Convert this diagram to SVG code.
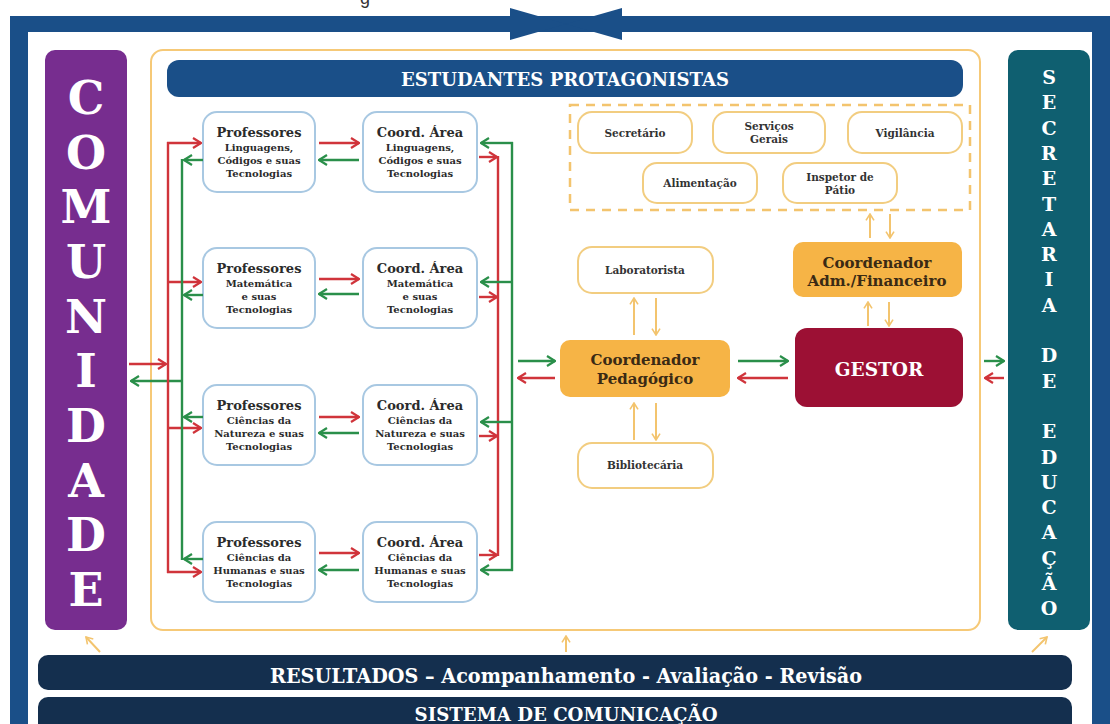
<svg xmlns="http://www.w3.org/2000/svg" width="1110" height="724" viewBox="0 0 1110 724">
  <style>
    .frame { fill: #1a4f88; }
    .col-text { font-family: "DejaVu Serif", "Liberation Serif", serif; font-weight: bold; fill: #ffffff; text-anchor: middle; }
    .bar { fill: #142f4e; }
    .bar-text { font-family: "DejaVu Serif", "Liberation Serif", serif; font-weight: bold; fill: #ffffff; text-anchor: middle; }
    .area { fill: #ffffff; stroke: #a8c8e2; stroke-width: 2; }
    .staff { fill: #ffffff; stroke: #f2cd80; stroke-width: 2; }
    .lead { fill: #f6b446; }
    .t-title { font-family: "DejaVu Serif", "Liberation Serif", serif; font-weight: bold; font-size: 13px; fill: #2b2b2b; text-anchor: middle; }
    .t-sub { font-family: "DejaVu Serif", "Liberation Serif", serif; font-weight: bold; font-size: 10px; fill: #2b2b2b; text-anchor: middle; }
    .t-staff { font-family: "DejaVu Serif", "Liberation Serif", serif; font-weight: bold; font-size: 10.5px; fill: #333333; text-anchor: middle; }
    .t-lead { font-family: "DejaVu Serif", "Liberation Serif", serif; font-weight: bold; font-size: 15px; fill: #3a2a14; text-anchor: middle; }
    .red { stroke: #d0343b; stroke-width: 2.4; fill: none; }
    .green { stroke: #2a8f4a; stroke-width: 2.4; fill: none; }
    .red-a { stroke: #d0343b; stroke-width: 2.4; fill: none; marker-end: url(#head-red); }
    .green-a { stroke: #2a8f4a; stroke-width: 2.4; fill: none; marker-end: url(#head-green); }
    .ora-a { stroke: #f3c46e; stroke-width: 2; fill: none; marker-end: url(#head-orange); }
  </style>
  <defs>
    <marker id="head-red" viewBox="0 0 10 12" refX="9" refY="6" markerWidth="10" markerHeight="12" markerUnits="userSpaceOnUse" orient="auto">
      <path d="M1,1 L9,6 L1,11" fill="none" stroke="#d0343b" stroke-width="2.2"/>
    </marker>
    <marker id="head-green" viewBox="0 0 10 12" refX="9" refY="6" markerWidth="10" markerHeight="12" markerUnits="userSpaceOnUse" orient="auto">
      <path d="M1,1 L9,6 L1,11" fill="none" stroke="#2a8f4a" stroke-width="2.2"/>
    </marker>
    <marker id="head-orange" viewBox="0 0 10 12" refX="9" refY="6" markerWidth="8" markerHeight="10" markerUnits="userSpaceOnUse" orient="auto">
      <path d="M1,1 L9,6 L1,11" fill="none" stroke="#f3c46e" stroke-width="2"/>
    </marker>
  </defs>

  <rect x="0" y="0" width="1110" height="724" fill="#ffffff"/>

  <!-- clipped heading fragment along the top edge -->
  <text x="360" y="4" font-family="Liberation Sans, sans-serif" font-size="18" fill="#333333">g</text>

  <!-- outer frame with the meeting arrows -->
  <g id="frame">
    <rect class="frame" x="10" y="16" width="1100" height="16"/>
    <rect class="frame" x="10" y="16" width="18" height="708"/>
    <rect class="frame" x="1092" y="16" width="18" height="708"/>
    <polygon class="frame" points="510,8 510,40 566,24"/>
    <polygon class="frame" points="622,8 622,40 566,24"/>
  </g>

  <!-- school boundary -->
  <rect id="escola" x="151" y="50" width="829" height="580" rx="12" fill="#ffffff" stroke="#f6c977" stroke-width="2"/>

  <g id="comunidade">
    <rect x="45" y="50" width="82" height="580" rx="10" fill="#772d8f"/>
    <g class="col-text" font-size="46">
      <text x="86" y="114">C</text>
      <text x="86" y="169">O</text>
      <text x="86" y="223">M</text>
      <text x="86" y="278">U</text>
      <text x="86" y="333">N</text>
      <text x="86" y="387">I</text>
      <text x="86" y="442">D</text>
      <text x="86" y="497">A</text>
      <text x="86" y="551">D</text>
      <text x="86" y="606">E</text>
    </g>
  </g>

  <g id="secretaria">
    <rect x="1008" y="50" width="82" height="580" rx="10" fill="#0f5f70"/>
    <g class="col-text" font-size="19">
      <text x="1049" y="84">S</text>
      <text x="1049" y="109">E</text>
      <text x="1049" y="135">C</text>
      <text x="1049" y="160">R</text>
      <text x="1049" y="185">E</text>
      <text x="1049" y="211">T</text>
      <text x="1049" y="236">A</text>
      <text x="1049" y="261">R</text>
      <text x="1049" y="286">I</text>
      <text x="1049" y="312">A</text>
      <text x="1049" y="362">D</text>
      <text x="1049" y="388">E</text>
      <text x="1049" y="438">E</text>
      <text x="1049" y="464">D</text>
      <text x="1049" y="489">U</text>
      <text x="1049" y="514">C</text>
      <text x="1049" y="539">A</text>
      <text x="1049" y="565">Ç</text>
      <text x="1049" y="590">Ã</text>
      <text x="1049" y="615">O</text>
    </g>
  </g>

  <g id="estudantes">
    <rect x="167" y="60" width="796" height="37" rx="12" fill="#1a4f88"/>
    <text class="bar-text" x="565" y="86" font-size="19" textLength="328" lengthAdjust="spacingAndGlyphs">ESTUDANTES PROTAGONISTAS</text>
  </g>

  <!-- teachers and area coordinators -->
  <g id="prof-linguagens">
    <rect class="area" x="203" y="112" width="112" height="80" rx="14"/>
    <text class="t-title" x="259" y="137">Professores</text>
    <text class="t-sub" x="259" y="150.5">Linguagens,</text>
    <text class="t-sub" x="259" y="163.5">Códigos e suas</text>
    <text class="t-sub" x="259" y="176.5">Tecnologias</text>
  </g>
  <g id="coord-linguagens">
    <rect class="area" x="363" y="112" width="114" height="80" rx="14"/>
    <text class="t-title" x="420" y="137">Coord. Área</text>
    <text class="t-sub" x="420" y="150.5">Linguagens,</text>
    <text class="t-sub" x="420" y="163.5">Códigos e suas</text>
    <text class="t-sub" x="420" y="176.5">Tecnologias</text>
  </g>
  <g id="prof-matematica">
    <rect class="area" x="203" y="248" width="112" height="80" rx="14"/>
    <text class="t-title" x="259" y="273">Professores</text>
    <text class="t-sub" x="259" y="286.5">Matemática</text>
    <text class="t-sub" x="259" y="299.5">e suas</text>
    <text class="t-sub" x="259" y="312.5">Tecnologias</text>
  </g>
  <g id="coord-matematica">
    <rect class="area" x="363" y="248" width="114" height="80" rx="14"/>
    <text class="t-title" x="420" y="273">Coord. Área</text>
    <text class="t-sub" x="420" y="286.5">Matemática</text>
    <text class="t-sub" x="420" y="299.5">e suas</text>
    <text class="t-sub" x="420" y="312.5">Tecnologias</text>
  </g>
  <g id="prof-natureza">
    <rect class="area" x="203" y="385" width="112" height="80" rx="14"/>
    <text class="t-title" x="259" y="410">Professores</text>
    <text class="t-sub" x="259" y="423.5">Ciências da</text>
    <text class="t-sub" x="259" y="436.5">Natureza e suas</text>
    <text class="t-sub" x="259" y="449.5">Tecnologias</text>
  </g>
  <g id="coord-natureza">
    <rect class="area" x="363" y="385" width="114" height="80" rx="14"/>
    <text class="t-title" x="420" y="410">Coord. Área</text>
    <text class="t-sub" x="420" y="423.5">Ciências da</text>
    <text class="t-sub" x="420" y="436.5">Natureza e suas</text>
    <text class="t-sub" x="420" y="449.5">Tecnologias</text>
  </g>
  <g id="prof-humanas">
    <rect class="area" x="203" y="522" width="112" height="80" rx="14"/>
    <text class="t-title" x="259" y="547">Professores</text>
    <text class="t-sub" x="259" y="560.5">Ciências da</text>
    <text class="t-sub" x="259" y="573.5">Humanas e suas</text>
    <text class="t-sub" x="259" y="586.5">Tecnologias</text>
  </g>
  <g id="coord-humanas">
    <rect class="area" x="363" y="522" width="114" height="80" rx="14"/>
    <text class="t-title" x="420" y="547">Coord. Área</text>
    <text class="t-sub" x="420" y="560.5">Ciências da</text>
    <text class="t-sub" x="420" y="573.5">Humanas e suas</text>
    <text class="t-sub" x="420" y="586.5">Tecnologias</text>
  </g>

  <!-- support staff -->
  <rect id="apoio" x="570" y="105" width="400" height="105" fill="none" stroke="#f3c46e" stroke-width="2.5" stroke-dasharray="9 7"/>
  <g id="secretario">
    <rect class="staff" x="578" y="112" width="114" height="41" rx="14"/>
    <text class="t-staff" x="635" y="137">Secretário</text>
  </g>
  <g id="servicos-gerais">
    <rect class="staff" x="713" y="112" width="112" height="41" rx="14"/>
    <text class="t-staff" x="769" y="130">Serviços</text>
    <text class="t-staff" x="769" y="143">Gerais</text>
  </g>
  <g id="vigilancia">
    <rect class="staff" x="848" y="112" width="114" height="41" rx="14"/>
    <text class="t-staff" x="905" y="137">Vigilância</text>
  </g>
  <g id="alimentacao">
    <rect class="staff" x="643" y="163" width="114" height="40" rx="14"/>
    <text class="t-staff" x="700" y="187">Alimentação</text>
  </g>
  <g id="inspetor">
    <rect class="staff" x="783" y="163" width="114" height="40" rx="14"/>
    <text class="t-staff" x="840" y="181">Inspetor de</text>
    <text class="t-staff" x="840" y="194">Pátio</text>
  </g>
  <g id="laboratorista">
    <rect class="staff" x="578" y="247" width="135" height="46" rx="14"/>
    <text class="t-staff" x="645" y="274">Laboratorista</text>
  </g>
  <g id="bibliotecaria">
    <rect class="staff" x="578" y="443" width="135" height="45" rx="14"/>
    <text class="t-staff" x="645" y="469">Bibliotecária</text>
  </g>

  <!-- leadership -->
  <g id="coord-adm">
    <rect class="lead" x="793" y="242" width="169" height="55" rx="10"/>
    <text class="t-lead" x="877" y="268" font-size="15.5">Coordenador</text>
    <text class="t-lead" x="877" y="286" font-size="15.5">Adm./Financeiro</text>
  </g>
  <g id="coord-pedagogico">
    <rect class="lead" x="560" y="340" width="170" height="57" rx="10"/>
    <text class="t-lead" x="645" y="365">Coordenador</text>
    <text class="t-lead" x="645" y="384">Pedagógico</text>
  </g>
  <g id="gestor">
    <rect x="795" y="328" width="168" height="79" rx="12" fill="#9c1034"/>
    <text class="bar-text" x="879" y="376" font-size="18.5">GESTOR</text>
  </g>

  <!-- results and communication bars -->
  <g id="resultados">
    <rect class="bar" x="38" y="655" width="1034" height="35" rx="10"/>
    <text class="bar-text" x="566" y="683" font-size="21" textLength="592" lengthAdjust="spacingAndGlyphs">RESULTADOS – Acompanhamento - Avaliação - Revisão</text>
  </g>
  <g id="comunicacao">
    <rect class="bar" x="38" y="697" width="1034" height="40" rx="10"/>
    <text class="bar-text" x="566" y="721" font-size="19" textLength="303" lengthAdjust="spacingAndGlyphs">SISTEMA DE COMUNICAÇÃO</text>
  </g>

  <g id="connectors">
    <!-- community exchange -->
    <line class="red-a" x1="129" y1="364" x2="166" y2="364"/>
    <line class="green-a" x1="182" y1="381" x2="131" y2="381"/>

    <!-- left buses -->
    <line class="red" x1="168" y1="142" x2="168" y2="573"/>
    <line class="red-a" x1="167" y1="143" x2="201" y2="143"/>
    <line class="red-a" x1="168" y1="282" x2="201" y2="282"/>
    <line class="red-a" x1="168" y1="428" x2="201" y2="428"/>
    <line class="red-a" x1="167" y1="572" x2="201" y2="572"/>
    <line class="green" x1="182" y1="159" x2="182" y2="560"/>
    <line class="green-a" x1="203" y1="160" x2="184" y2="160"/>
    <line class="green-a" x1="203" y1="295" x2="184" y2="295"/>
    <line class="green-a" x1="203" y1="417" x2="184" y2="417"/>
    <line class="green-a" x1="203" y1="559" x2="184" y2="559"/>

    <!-- teachers to coordinators -->
    <line class="red-a" x1="319" y1="143" x2="359" y2="143"/>
    <line class="green-a" x1="359" y1="160" x2="319" y2="160"/>
    <line class="red-a" x1="319" y1="279" x2="359" y2="279"/>
    <line class="green-a" x1="359" y1="294" x2="319" y2="294"/>
    <line class="red-a" x1="319" y1="417" x2="359" y2="417"/>
    <line class="green-a" x1="359" y1="433" x2="319" y2="433"/>
    <line class="red-a" x1="319" y1="553" x2="359" y2="553"/>
    <line class="green-a" x1="359" y1="570" x2="319" y2="570"/>

    <!-- right buses -->
    <line class="red" x1="498" y1="156" x2="498" y2="556"/>
    <line class="red-a" x1="479" y1="157" x2="497" y2="157"/>
    <line class="red-a" x1="479" y1="297" x2="497" y2="297"/>
    <line class="red-a" x1="479" y1="436" x2="497" y2="436"/>
    <line class="red-a" x1="479" y1="555" x2="497" y2="555"/>
    <line class="green" x1="512" y1="142" x2="512" y2="571"/>
    <line class="green-a" x1="513" y1="143" x2="481" y2="143"/>
    <line class="green-a" x1="512" y1="282" x2="481" y2="282"/>
    <line class="green-a" x1="512" y1="422" x2="481" y2="422"/>
    <line class="green-a" x1="513" y1="570" x2="481" y2="570"/>

    <!-- pedagogical coordinator, manager, secretariat -->
    <line class="green-a" x1="518" y1="361" x2="555" y2="361"/>
    <line class="red-a" x1="555" y1="378" x2="518" y2="378"/>
    <line class="green-a" x1="738" y1="361" x2="788" y2="361"/>
    <line class="red-a" x1="788" y1="378" x2="738" y2="378"/>
    <line class="green-a" x1="984" y1="361" x2="1004" y2="361"/>
    <line class="red-a" x1="1004" y1="378" x2="985" y2="378"/>

    <!-- up / down pairs -->
    <line class="ora-a" x1="634" y1="335" x2="634" y2="298"/>
    <line class="ora-a" x1="656" y1="298" x2="656" y2="335"/>
    <line class="ora-a" x1="634" y1="440" x2="634" y2="403"/>
    <line class="ora-a" x1="656" y1="403" x2="656" y2="440"/>
    <line class="ora-a" x1="870" y1="238" x2="870" y2="214"/>
    <line class="ora-a" x1="890" y1="214" x2="890" y2="238"/>
    <line class="ora-a" x1="868" y1="326" x2="868" y2="302"/>
    <line class="ora-a" x1="889" y1="302" x2="889" y2="326"/>

    <!-- results feeding back -->
    <line class="ora-a" x1="100" y1="652" x2="86" y2="637"/>
    <line class="ora-a" x1="566" y1="652" x2="566" y2="636"/>
    <line class="ora-a" x1="1032" y1="652" x2="1047" y2="637"/>
  </g>
</svg>
